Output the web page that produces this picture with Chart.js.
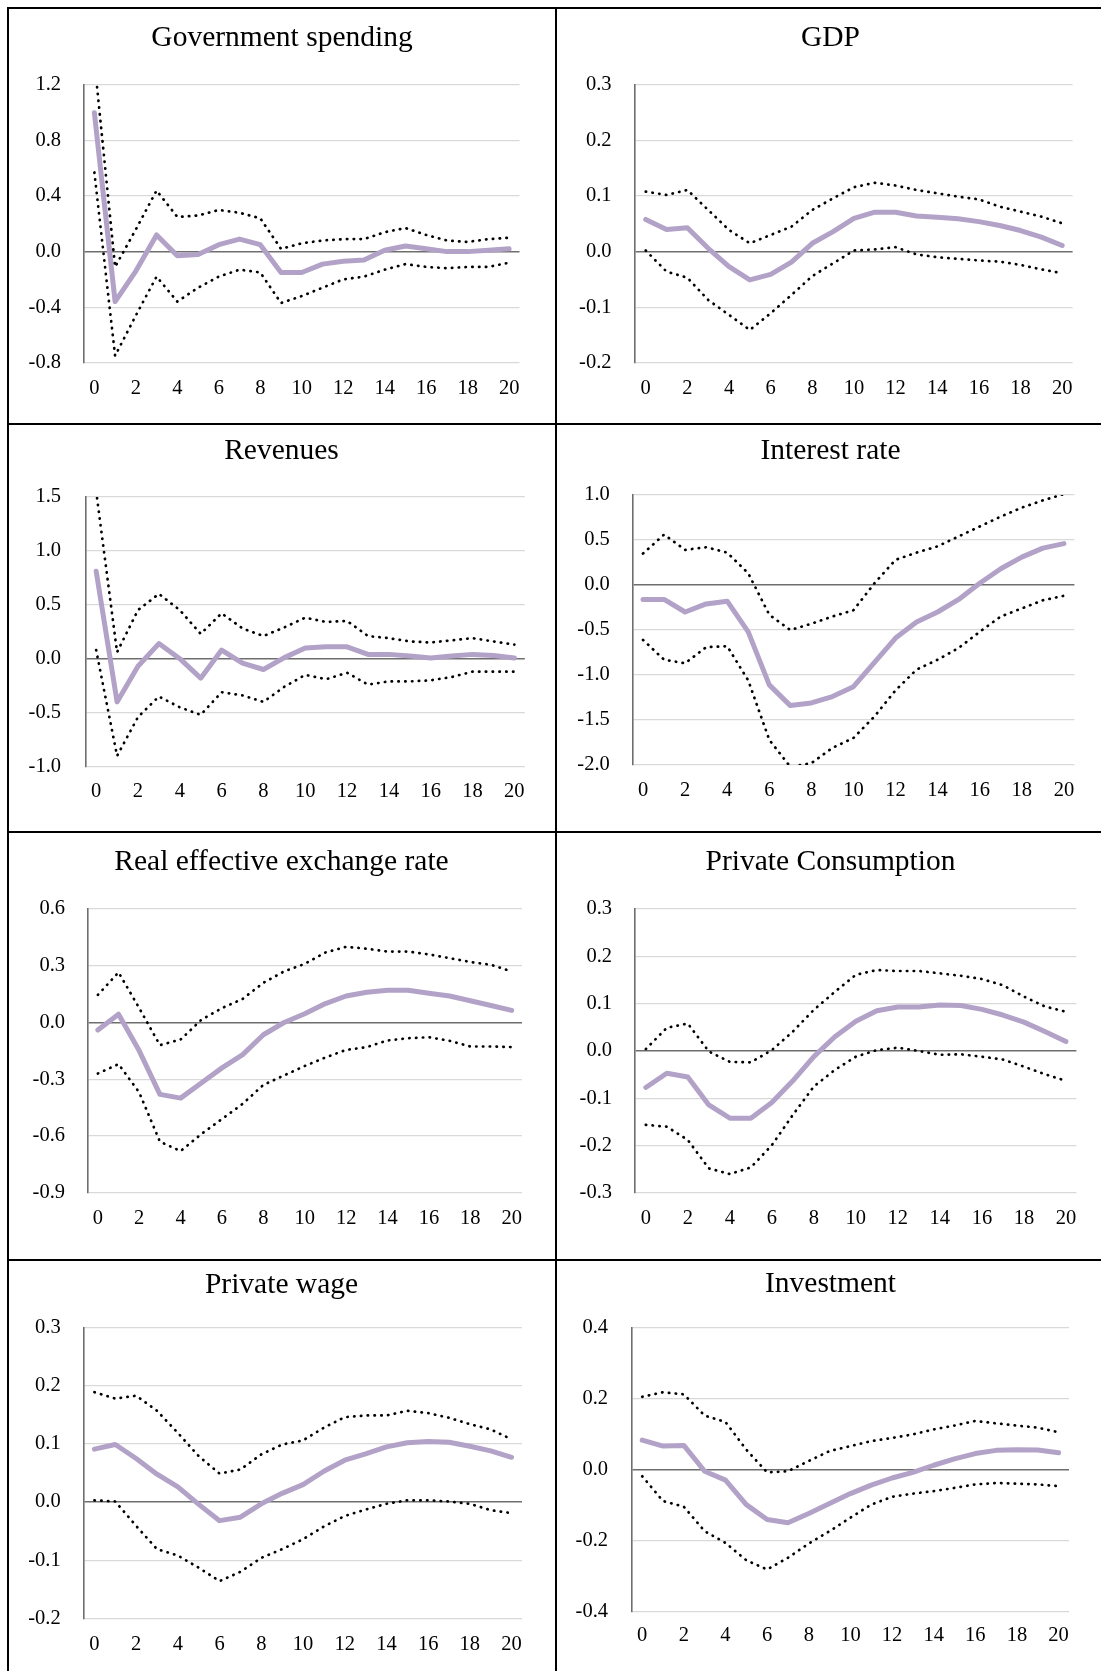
<!DOCTYPE html>
<html>
<head>
<meta charset="utf-8">
<title>Impulse responses to a government spending shock</title>
<script src="https://cdn.jsdelivr.net/npm/chart.js@4.4.0/dist/chart.umd.min.js"></script>
<style>
  html, body { margin: 0; padding: 0; background: #fff; }
  #page { position: relative; width: 1101px; height: 1671px; overflow: hidden; background: #fff; }
  #page canvas { position: absolute; }
  .rule { position: absolute; background: #000; z-index: 5; }
</style>
</head>
<body>
<div id="page"></div>
<script>
// Horizon (quarters after the shock)
const horizons = [0, 1, 2, 3, 4, 5, 6, 7, 8, 9, 10, 11, 12, 13, 14, 15, 16, 17, 18, 19, 20];

const panelTitles = [
  'Government spending', 'GDP',
  'Revenues', 'Interest rate',
  'Real effective exchange rate', 'Private Consumption',
  'Private wage', 'Investment'
];

// Government spending
const gsMean  = [1.00, -0.36, -0.14, 0.12, -0.03, -0.02, 0.05, 0.09, 0.05, -0.15, -0.15, -0.09, -0.07, -0.06, 0.01, 0.04, 0.02, 0.00, 0.00, 0.01, 0.02];
const gsUpper = [1.38, -0.11, 0.16, 0.44, 0.25, 0.26, 0.30, 0.28, 0.24, 0.02, 0.06, 0.08, 0.09, 0.09, 0.14, 0.17, 0.12, 0.08, 0.07, 0.09, 0.10];
const gsLower = [0.57, -0.75, -0.46, -0.18, -0.36, -0.26, -0.18, -0.13, -0.15, -0.37, -0.32, -0.26, -0.20, -0.18, -0.13, -0.09, -0.11, -0.12, -0.11, -0.11, -0.08];
const gsTicks = [-0.8, -0.4, 0.0, 0.4, 0.8, 1.2];

// GDP
const gdpMean  = [0.058, 0.040, 0.043, 0.006, -0.027, -0.051, -0.041, -0.019, 0.015, 0.036, 0.060, 0.071, 0.071, 0.064, 0.062, 0.059, 0.054, 0.047, 0.038, 0.026, 0.011];
const gdpUpper = [0.108, 0.102, 0.111, 0.075, 0.039, 0.015, 0.030, 0.045, 0.075, 0.096, 0.116, 0.124, 0.119, 0.111, 0.105, 0.099, 0.094, 0.081, 0.072, 0.063, 0.051];
const gdpLower = [0.002, -0.036, -0.047, -0.087, -0.114, -0.141, -0.111, -0.078, -0.044, -0.021, 0.002, 0.004, 0.008, -0.005, -0.010, -0.013, -0.016, -0.018, -0.024, -0.032, -0.039];
const gdpTicks = [-0.2, -0.1, 0.0, 0.1, 0.2, 0.3];

// Revenues
const revMean  = [0.81, -0.40, -0.07, 0.14, 0.00, -0.18, 0.08, -0.04, -0.10, 0.01, 0.10, 0.11, 0.11, 0.04, 0.04, 0.025, 0.006, 0.025, 0.04, 0.03, 0.006];
const revUpper = [1.55, 0.06, 0.45, 0.60, 0.45, 0.23, 0.42, 0.28, 0.21, 0.29, 0.38, 0.34, 0.35, 0.21, 0.19, 0.16, 0.15, 0.17, 0.19, 0.16, 0.13];
const revLower = [0.08, -0.90, -0.54, -0.35, -0.45, -0.52, -0.31, -0.34, -0.40, -0.26, -0.15, -0.19, -0.13, -0.24, -0.21, -0.21, -0.20, -0.17, -0.12, -0.12, -0.12];
const revTicks = [-1.0, -0.5, 0.0, 0.5, 1.0, 1.5];

// Interest rate
const irMean  = [-0.16, -0.16, -0.30, -0.21, -0.18, -0.52, -1.11, -1.34, -1.31, -1.24, -1.13, -0.86, -0.59, -0.41, -0.30, -0.16, 0.02, 0.18, 0.31, 0.41, 0.46];
const irUpper = [0.35, 0.56, 0.39, 0.42, 0.36, 0.13, -0.33, -0.50, -0.43, -0.35, -0.28, 0.02, 0.28, 0.36, 0.43, 0.54, 0.65, 0.76, 0.86, 0.94, 1.01];
const irLower = [-0.61, -0.83, -0.87, -0.69, -0.68, -1.06, -1.72, -2.02, -1.98, -1.81, -1.70, -1.46, -1.17, -0.94, -0.83, -0.70, -0.52, -0.35, -0.26, -0.17, -0.12];
const irTicks = [-2.0, -1.5, -1.0, -0.5, 0.0, 0.5, 1.0];

// Real effective exchange rate
const reerMean  = [-0.04, 0.044, -0.15, -0.38, -0.40, -0.32, -0.24, -0.17, -0.065, 0.0, 0.046, 0.10, 0.14, 0.16, 0.17, 0.17, 0.155, 0.14, 0.115, 0.09, 0.064];
const reerUpper = [0.146, 0.265, 0.076, -0.12, -0.09, 0.014, 0.076, 0.125, 0.21, 0.27, 0.31, 0.37, 0.40, 0.39, 0.375, 0.375, 0.36, 0.34, 0.32, 0.305, 0.27];
const reerLower = [-0.27, -0.22, -0.37, -0.63, -0.68, -0.59, -0.51, -0.43, -0.33, -0.28, -0.23, -0.185, -0.145, -0.13, -0.095, -0.083, -0.078, -0.097, -0.127, -0.127, -0.13];
const reerTicks = [-0.9, -0.6, -0.3, 0.0, 0.3, 0.6];

// Private consumption
const pcMean  = [-0.077, -0.047, -0.055, -0.114, -0.142, -0.142, -0.109, -0.063, -0.012, 0.030, 0.063, 0.085, 0.093, 0.093, 0.097, 0.096, 0.088, 0.076, 0.061, 0.041, 0.020];
const pcUpper = [0.004, 0.049, 0.058, -0.001, -0.023, -0.024, 0.002, 0.041, 0.087, 0.125, 0.161, 0.171, 0.169, 0.169, 0.164, 0.159, 0.152, 0.139, 0.115, 0.094, 0.083];
const pcLower = [-0.156, -0.160, -0.188, -0.248, -0.260, -0.246, -0.199, -0.135, -0.075, -0.040, -0.012, 0.002, 0.007, 0.000, -0.008, -0.007, -0.012, -0.018, -0.033, -0.049, -0.063];
const pcTicks = [-0.3, -0.2, -0.1, 0.0, 0.1, 0.2, 0.3];

// Private wage
const pwMean  = [0.091, 0.099, 0.075, 0.048, 0.026, -0.004, -0.032, -0.026, -0.003, 0.015, 0.030, 0.053, 0.072, 0.083, 0.095, 0.102, 0.104, 0.103, 0.096, 0.088, 0.077];
const pwUpper = [0.189, 0.178, 0.183, 0.157, 0.119, 0.079, 0.049, 0.056, 0.082, 0.099, 0.106, 0.128, 0.146, 0.149, 0.149, 0.157, 0.153, 0.145, 0.134, 0.125, 0.108];
const pwLower = [0.003, 0.001, -0.041, -0.081, -0.092, -0.113, -0.136, -0.120, -0.096, -0.081, -0.064, -0.042, -0.024, -0.013, -0.003, 0.003, 0.003, 0.001, -0.003, -0.014, -0.019];
const pwTicks = [-0.2, -0.1, 0.0, 0.1, 0.2, 0.3];

// Investment
const invMean  = [0.083, 0.066, 0.068, -0.005, -0.030, -0.099, -0.141, -0.150, -0.124, -0.096, -0.068, -0.044, -0.024, -0.008, 0.012, 0.030, 0.045, 0.054, 0.056, 0.055, 0.047];
const invUpper = [0.205, 0.218, 0.212, 0.152, 0.134, 0.056, -0.008, -0.005, 0.024, 0.052, 0.066, 0.080, 0.089, 0.099, 0.113, 0.124, 0.137, 0.130, 0.124, 0.118, 0.105];
const invLower = [-0.019, -0.089, -0.105, -0.174, -0.207, -0.256, -0.282, -0.249, -0.209, -0.174, -0.136, -0.099, -0.077, -0.068, -0.061, -0.052, -0.042, -0.038, -0.040, -0.042, -0.047];
const invTicks = [-0.4, -0.2, 0.0, 0.2, 0.4];

// ---- styling ----
const FONT = "'Liberation Serif', 'Times New Roman', Times, serif";
const TITLE_SIZE = 29.5;
const TICK_SIZE = 20.5;
const PURPLE = '#b3a2c7';
const GRID = '#d9d9d9';
const AXIS = '#6e6e6e';

// Page frame: left edge of each column and row boundaries
const COL_LEFT = [8, 556];
const ROWS = [[8, 424], [424, 832], [832, 1260], [1260, 1671]];

// Placement of each panel's plot area on the page
const panels = [
  { title: panelTitles[0], mean: gsMean,   upper: gsUpper,   lower: gsLower,   ticks: gsTicks,   col: 0, row: 0,
    plotL: 84,    plotR: 519.5,  plotT: 85,     plotB: 362.7,  titleX: 282,   titleY: 37.8,   xLabY: 388.3,  yLabR: 61 },
  { title: panelTitles[1], mean: gdpMean,  upper: gdpUpper,  lower: gdpLower,  ticks: gdpTicks,  col: 1, row: 0,
    plotL: 635.3, plotR: 1072.6, plotT: 85,     plotB: 362.7,  titleX: 830.7, titleY: 37.8,   xLabY: 388.3,  yLabR: 611.5 },
  { title: panelTitles[2], mean: revMean,  upper: revUpper,  lower: revLower,  ticks: revTicks,  col: 0, row: 1,
    plotL: 85.7,  plotR: 524.8,  plotT: 496.7,  plotB: 766.7,  titleX: 281.7, titleY: 451.7,  xLabY: 791.7,  yLabR: 61 },
  { title: panelTitles[3], mean: irMean,   upper: irUpper,   lower: irLower,   ticks: irTicks,   col: 1, row: 1,
    plotL: 632.5, plotR: 1074.4, plotT: 495,    plotB: 765,    titleX: 830.5, titleY: 451.7,  xLabY: 790.7,  yLabR: 609.8 },
  { title: panelTitles[4], mean: reerMean, upper: reerUpper, lower: reerLower, ticks: reerTicks, col: 0, row: 2,
    plotL: 87.5,  plotR: 522,    plotT: 909,    plotB: 1192.7, titleX: 281.5, titleY: 862,    xLabY: 1218.7, yLabR: 65 },
  { title: panelTitles[5], mean: pcMean,   upper: pcUpper,   lower: pcLower,   ticks: pcTicks,   col: 1, row: 2,
    plotL: 635.3, plotR: 1076.4, plotT: 909,    plotB: 1193,   titleX: 830.3, titleY: 862,    xLabY: 1218.7, yLabR: 612 },
  { title: panelTitles[6], mean: pwMean,   upper: pwUpper,   lower: pwLower,   ticks: pwTicks,   col: 0, row: 3,
    plotL: 84,    plotR: 522,    plotT: 1327.7, plotB: 1618.3, titleX: 281.7, titleY: 1285.3, xLabY: 1644.3, yLabR: 60.7 },
  { title: panelTitles[7], mean: invMean,  upper: invUpper,  lower: invLower,  ticks: invTicks,  col: 1, row: 3,
    plotL: 631.8, plotR: 1069,   plotT: 1327.7, plotB: 1611.3, titleX: 830.3, titleY: 1284.3, xLabY: 1636,   yLabR: 608 }
];

const page = document.getElementById('page');

function rule(x, y, w, h) {
  const d = document.createElement('div');
  d.className = 'rule';
  d.style.left = x + 'px'; d.style.top = y + 'px';
  d.style.width = w + 'px'; d.style.height = h + 'px';
  page.appendChild(d);
}

// Frame lines around the panel grid
rule(7, 7, 1094, 2);
rule(7, 7, 2, 1664);
rule(555, 7, 2, 1664);
rule(7, 423, 1094, 2);
rule(7, 831, 1094, 2);
rule(7, 1259, 1094, 2);

function fmtTick(v) {
  if (Math.abs(v) < 1e-9) return '0.0';
  return v.toFixed(1);
}

function bandDataset(values) {
  return {
    data: values,
    borderColor: '#000',
    borderWidth: 2.7,
    borderDash: [0.4, 6.4],
    borderCapStyle: 'round',
    borderJoinStyle: 'round',
    pointRadius: 0,
    tension: 0,
    fill: false,
    clip: 0,
    order: 1
  };
}

function makePanel(p) {
  // The canvas is symmetric about the title centre; an empty right-hand
  // axis takes up the space between the plot and the canvas edge.
  const cl = COL_LEFT[p.col];
  const cr = 2 * p.titleX - cl;
  const [ct, cb] = ROWS[p.row];
  const w = Math.round(cr - cl), h = cb - ct;

  const canvas = document.createElement('canvas');
  canvas.width = w; canvas.height = h;
  canvas.style.left = cl + 'px'; canvas.style.top = ct + 'px';
  canvas.style.width = w + 'px'; canvas.style.height = h + 'px';
  page.appendChild(canvas);

  const yAxisWidth = p.plotL - cl;
  const rightWidth = (cl + w) - p.plotR;
  const xAxisHeight = cb - p.plotB;
  const titleLH = TITLE_SIZE * 1.2;
  const titlePadTop = p.titleY - ct - titleLH / 2;
  const titlePadBottom = p.plotT - ct - titlePadTop - titleLH;
  const xTickPad = p.xLabY - p.plotB - TICK_SIZE * 1.2 / 2;
  const yTickPad = p.plotL - p.yLabR;
  const tickVals = p.ticks;

  new Chart(canvas, {
    type: 'line',
    data: {
      labels: horizons.map(String),
      datasets: [
        {
          data: p.mean,
          borderColor: PURPLE,
          borderWidth: 5,
          borderCapStyle: 'round',
          borderJoinStyle: 'round',
          pointRadius: 0,
          tension: 0,
          fill: false,
          clip: 0,
          order: 2
        },
        bandDataset(p.upper),
        bandDataset(p.lower)
      ]
    },
    options: {
      responsive: false,
      animation: false,
      devicePixelRatio: 1,
      events: [],
      layout: { padding: 0 },
      plugins: {
        legend: { display: false },
        tooltip: { enabled: false },
        title: {
          display: true,
          text: p.title,
          color: '#000',
          font: { family: FONT, size: TITLE_SIZE, weight: 'normal', lineHeight: 1.2 },
          padding: { top: titlePadTop, bottom: titlePadBottom }
        }
      },
      scales: {
        x: {
          type: 'category',
          offset: true,
          grid: { display: false, drawTicks: false },
          border: { display: false },
          ticks: {
            autoSkip: false,
            maxRotation: 0,
            minRotation: 0,
            padding: xTickPad,
            color: '#000',
            font: { family: FONT, size: TICK_SIZE, lineHeight: 1.2 },
            callback: (val, i) => (horizons[i] % 2 === 0 ? String(horizons[i]) : '')
          },
          afterFit: (s) => { s.height = xAxisHeight; }
        },
        y: {
          type: 'linear',
          position: 'left',
          min: tickVals[0],
          max: tickVals[tickVals.length - 1],
          afterBuildTicks: (s) => { s.ticks = tickVals.map(v => ({ value: v })); },
          grid: {
            drawTicks: false,
            color: (ctx) => (ctx.tick && Math.abs(ctx.tick.value) < 1e-9 ? AXIS : GRID),
            lineWidth: (ctx) => (ctx.tick && Math.abs(ctx.tick.value) < 1e-9 ? 1.6 : 1.2)
          },
          border: { display: true, color: AXIS, width: 1.6 },
          ticks: {
            padding: yTickPad,
            color: '#000',
            font: { family: FONT, size: TICK_SIZE, lineHeight: 1.2 },
            callback: (v) => fmtTick(v)
          },
          afterFit: (s) => { s.width = yAxisWidth; }
        },
        yRight: {
          type: 'linear',
          position: 'right',
          grid: { display: false, drawTicks: false },
          border: { display: false },
          ticks: { display: false },
          afterFit: (s) => { s.width = rightWidth; }
        }
      }
    }
  });
}

panels.forEach(makePanel);
</script>
</body>
</html>
